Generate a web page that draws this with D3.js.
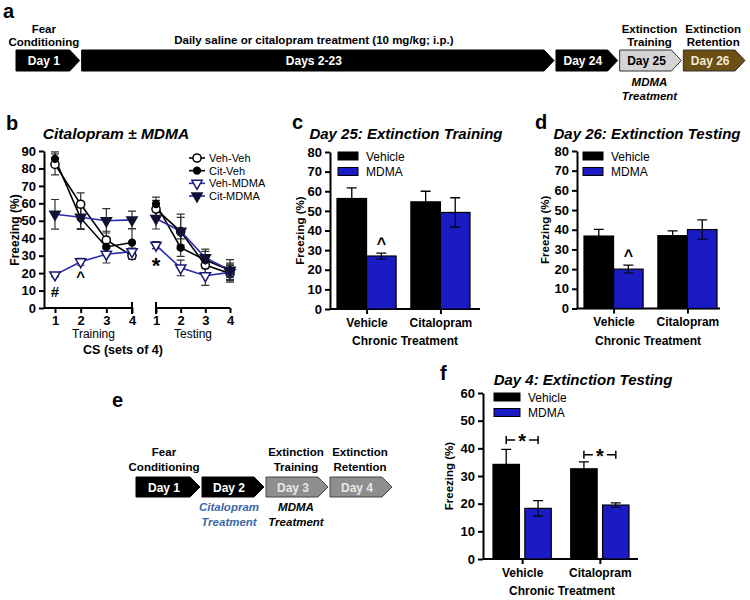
<!DOCTYPE html>
<html><head><meta charset="utf-8">
<script src="https://cdn.jsdelivr.net/npm/d3@7"></script>
<style>body{margin:0;background:#fff} text{font-family:"Liberation Sans",Arial,Helvetica,sans-serif}</style>
</head><body><svg id="chart" width="750" height="600"></svg>
<script>
// ---------------- DATA ----------------
// Panel a timeline
const timelineALabels = ["Day 1", "Days 2-23", "Day 24", "Day 25", "Day 26"];
const timelineAWeights = [1, 7.45, 1, 1, 1];
const timelineATop = [["Fear", "Conditioning"], ["Daily saline or citalopram treatment (10 mg/kg; i.p.)"], [], ["Extinction", "Training"], ["Extinction", "Retention"]];
const timelineABottom = [[], [], [], ["MDMA", "Treatment"], []];
// Panel e timeline
const timelineELabels = ["Day 1", "Day 2", "Day 3", "Day 4"];
const timelineEWeights = [1, 1, 1, 1];
const timelineETop = [["Fear", "Conditioning"], [], ["Extinction", "Training"], ["Extinction", "Retention"]];
const timelineEBottom = [[], ["Citalopram", "Treatment"], ["MDMA", "Treatment"], []];

// Panel b: CS sets, training / testing
const csSets = [1, 2, 3, 4];
const bSeriesNames = ["Veh-Veh", "Cit-Veh", "Veh-MDMA", "Cit-MDMA"];
const vehVehTraining = [82.3, 59.5, 39, 30];
const vehVehTesting = [56.7, 43.8, 24.6, 19.8];
const vehVehTrainingSem = [6, 6.5, 5, 2];
const vehVehTestingSem = [5, 10, 5, 5];
const citVehTraining = [85.5, 51.5, 35, 37.5];
const citVehTesting = [59.6, 34.6, 27.5, 21.7];
const citVehTrainingSem = [4, 6, 5, 8];
const citVehTestingSem = [4, 5, 5, 4];
const vehMdmaTraining = [19, 26.5, 30.8, 32.3];
const vehMdmaTesting = [36, 23, 18.5, 20.4];
const vehMdmaTrainingSem = [1, 2, 5, 2];
const vehMdmaTestingSem = [2, 4.5, 5.5, 4];
const citMdmaTraining = [53.7, 52, 50, 50.5];
const citMdmaTesting = [51.3, 44, 28.8, 21.7];
const citMdmaTrainingSem = [8.5, 7, 7, 5];
const citMdmaTestingSem = [6, 8, 5, 6];

// Bar panels
const chronicGroups = ["Vehicle", "Citalopram"];
const acuteGroups = ["Vehicle", "MDMA"];
const day25Vehicle = [56.3, 54.6], day25VehicleSem = [5.4, 5.4];
const day25Mdma = [27, 49.2], day25MdmaSem = [1.5, 7.5];
const day26Vehicle = [36.8, 37], day26VehicleSem = [3.4, 2.4];
const day26Mdma = [20, 40.1], day26MdmaSem = [2, 4.9];
const day4Vehicle = [34.2, 32.6], day4VehicleSem = [5.4, 2.5];
const day4Mdma = [18.3, 19.5], day4MdmaSem = [2.8, 0.8];
const day4BracketLevel = [43, 37.7];
const ticks80 = [0, 10, 20, 30, 40, 50, 60, 70, 80];
const ticks60 = [0, 10, 20, 30, 40, 50, 60];
const ticks90 = [0, 10, 20, 30, 40, 50, 60, 70, 80, 90];

// ---------------- DRAWING ----------------
const BLUE = "#1b1bc4", LBLUE = "#2a2ab0";
const svg = d3.select("#chart");
svg.append("rect").attr("width", 750).attr("height", 600).attr("fill", "#fff");

function txt(g, x, y, s, o = {}) {
  return g.append("text").attr("x", x).attr("y", y).text(s)
    .attr("font-size", o.size || 12).attr("font-weight", o.weight || "bold")
    .attr("font-style", o.style || "normal").attr("text-anchor", o.anchor || "middle")
    .attr("fill", o.fill || "#000");
}

function timeline(labels, weights, top, bottom, styles, x0, x1, y0, h, tip, font, boxFont, topY, botY, botFill) {
  const g = svg.append("g");
  const sc = d3.scaleLinear([0, d3.sum(weights)], [x0, x1]);
  let cum = 0;
  labels.forEach((lab, i) => {
    const a = sc(cum) + (i ? 2 : 0), b = sc(cum + weights[i]);
    cum += weights[i];
    const st = styles[i];
    g.append("path")
      .attr("d", `M${a},${y0}L${b - tip},${y0}L${b},${y0 + h / 2}L${b - tip},${y0 + h}L${a},${y0 + h}Z`)
      .attr("fill", st.fill).attr("stroke", st.stroke).attr("stroke-width", 1);
    const cx = (a + b - tip) / 2 + 1;
    txt(g, cx, y0 + h / 2 + 4.5, lab, { size: boxFont, fill: st.text });
    const t = top[i];
    t.forEach((s, j) => txt(g, cx + (t.length === 2 && i > 0 ? 3 : 0), topY[t.length === 1 ? 2 : j], s, { size: font }));
    bottom[i].forEach((s, j) => txt(g, cx + (i > 1 ? 3 : 0), botY[j], s, { size: font, style: "italic", fill: botFill[i] }));
  });
  return g;
}

// Panel a
txt(svg, 3, 18, "a", { size: 20, anchor: "start" });
timeline(timelineALabels, timelineAWeights, timelineATop, timelineABottom,
  [{ fill: "#000", stroke: "#000", text: "#fff" }, { fill: "#000", stroke: "#000", text: "#fff" },
   { fill: "#000", stroke: "#000", text: "#fff" }, { fill: "#d4d4d4", stroke: "#333", text: "#000" },
   { fill: "#6b4f14", stroke: "#333", text: "#f3ecd8" }],
  16, 745, 50, 21, 10, 11.5, 12, [33, 46, 44], [86, 100], ["#000", "#000", "#000", "#000", "#000"]);

// Panel e
txt(svg, 112, 407, "e", { size: 20, anchor: "start" });
timeline(timelineELabels, timelineEWeights, timelineETop, timelineEBottom,
  [{ fill: "#000", stroke: "#000", text: "#fff" }, { fill: "#000", stroke: "#000", text: "#fff" },
   { fill: "#8e8e8e", stroke: "#444", text: "#e8e8e8" }, { fill: "#8e8e8e", stroke: "#444", text: "#e8e8e8" }],
  136, 392, 477, 20, 10, 11.5, 12, [456, 471, 471], [511, 526], ["#000", "#3b67a8", "#000", "#000"]);

function styleAxis(a, size) {
  a.selectAll(".domain").attr("stroke-width", 2);
  a.selectAll(".tick line").attr("stroke-width", 2);
  a.selectAll(".tick text").attr("font-size", size || 13).attr("font-weight", "bold")
    .attr("font-family", '"Liberation Sans",Arial,sans-serif').attr("fill", "#000");
}

// Panel b
(function () {
  const g = svg.append("g");
  txt(g, 6, 130, "b", { size: 20, anchor: "start" });
  txt(g, 116, 139, "Citalopram \u00b1 MDMA", { size: 15.5, style: "italic" });
  const xTr = d3.scaleLinear([1, 4], [55, 132]);
  const xTe = d3.scaleLinear([1, 4], [156, 230]);
  const y = d3.scaleLinear([0, 90], [308, 151]);
  const ya = g.append("g").attr("transform", "translate(44,0)")
    .call(d3.axisLeft(y).tickValues(ticks90).tickSize(5).tickSizeOuter(0).tickPadding(3));
  styleAxis(ya, 13);
  [[xTr, 44, 132, 132], [xTe, 156, 230, 156]].forEach(([sc, l, r, cap]) => {
    const xa = g.append("g").attr("transform", "translate(0,308)")
      .call(d3.axisBottom(sc).tickValues(csSets).tickFormat(d3.format("d")).tickSize(5).tickPadding(3));
    xa.select(".domain").remove();
    styleAxis(xa, 13);
    g.append("line").attr("x1", l).attr("x2", r).attr("y1", 308).attr("y2", 308).attr("stroke", "#000").attr("stroke-width", 2);
    g.append("line").attr("x1", cap).attr("x2", cap).attr("y1", 302).attr("y2", 314).attr("stroke", "#000").attr("stroke-width", 2);
  });
  txt(g, (xTr(1) + xTr(4)) / 2, 338, "Training", { size: 12, weight: "normal" });
  txt(g, (xTe(1) + xTe(4)) / 2, 338, "Testing", { size: 12, weight: "normal" });
  txt(g, 123, 354, "CS (sets of 4)", { size: 12.5 });
  txt(g, 0, 0, "Freezing (%)", { size: 12 }).attr("transform", "translate(19,230) rotate(-90)");

  const series = [
    { name: bSeriesNames[0], tr: vehVehTraining, te: vehVehTesting, trs: vehVehTrainingSem, tes: vehVehTestingSem, line: "#000", sym: d3.symbolCircle, size: 52, fill: "#fff", stroke: "#000", rot: 0 },
    { name: bSeriesNames[1], tr: citVehTraining, te: citVehTesting, trs: citVehTrainingSem, tes: citVehTestingSem, line: "#000", sym: d3.symbolCircle, size: 36, fill: "#000", stroke: "#000", rot: 0 },
    { name: bSeriesNames[2], tr: vehMdmaTraining, te: vehMdmaTesting, trs: vehMdmaTrainingSem, tes: vehMdmaTestingSem, line: LBLUE, sym: d3.symbolTriangle, size: 46, fill: "#fff", stroke: "#1a1a70", rot: 180 },
    { name: bSeriesNames[3], tr: citMdmaTraining, te: citMdmaTesting, trs: citMdmaTrainingSem, tes: citMdmaTestingSem, line: LBLUE, sym: d3.symbolTriangle, size: 46, fill: "#111133", stroke: "#111133", rot: 180 }
  ];
  const line = (sc) => d3.line().x((d, i) => sc(csSets[i])).y(d => y(d));
  series.forEach(s => {
    [[xTr, s.tr, s.trs], [xTe, s.te, s.tes]].forEach(([sc, v, e]) => {
      v.forEach((d, i) => {
        const x = sc(csSets[i]);
        g.append("path").attr("d", `M${x},${y(d - e[i])}V${y(d + e[i])}M${x - 4},${y(d + e[i])}H${x + 4}M${x - 4},${y(d - e[i])}H${x + 4}`)
          .attr("stroke", "#333").attr("stroke-width", 1.2).attr("fill", "none");
      });
    });
  });
  series.forEach(s => {
    [[xTr, s.tr], [xTe, s.te]].forEach(([sc, v]) => {
      g.append("path").attr("d", line(sc)(v)).attr("fill", "none").attr("stroke", s.line).attr("stroke-width", 1.6);
    });
  });
  const sym = (s) => d3.symbol().type(s.sym).size(s.size)();
  series.forEach(s => {
    [[xTr, s.tr], [xTe, s.te]].forEach(([sc, v]) => {
      v.forEach((d, i) => {
        g.append("path").attr("d", sym(s)).attr("transform", `translate(${sc(csSets[i])},${y(d)}) rotate(${s.rot})`)
          .attr("fill", s.fill).attr("stroke", s.stroke).attr("stroke-width", 1.5);
      });
    });
  });
  // legend
  const ly = d3.scalePoint(bSeriesNames, [158, 196]);
  series.forEach(s => {
    const yy = ly(s.name);
    g.append("line").attr("x1", 189).attr("x2", 205).attr("y1", yy).attr("y2", yy).attr("stroke", s.line).attr("stroke-width", 1.6);
    g.append("path").attr("d", sym(s)).attr("transform", `translate(197,${yy}) rotate(${s.rot})`)
      .attr("fill", s.fill).attr("stroke", s.stroke).attr("stroke-width", 1.5);
    txt(g, 209, yy + 4, s.name, { size: 11, weight: "normal", anchor: "start" });
  });
  // annotations
  txt(g, xTr(1), y(vehMdmaTraining[0]) + 22, "#", { size: 15 });
  txt(g, xTr(2), y(vehMdmaTraining[1] - vehMdmaTrainingSem[1]) + 17, "^", { size: 15 });
  txt(g, xTe(1), y(vehMdmaTesting[0] - vehMdmaTestingSem[0]) + 24, "*", { size: 22 });
})();

// Bar panels
function barPanel(o) {
  const g = svg.append("g");
  txt(g, o.letterX, o.letterY, o.letter, { size: 20, anchor: "start" });
  txt(g, o.titleX, o.titleY, o.title, { size: 15, style: "italic" });
  const y = d3.scaleLinear([0, o.max], [o.y0, o.y1]);
  const x0 = d3.scaleBand(chronicGroups, o.barRange).paddingInner(o.pad);
  const x1 = d3.scaleBand(acuteGroups, [0, x0.bandwidth()]).paddingInner(o.subPad);
  const ya = g.append("g").attr("transform", `translate(${o.axisX},0)`)
    .call(d3.axisLeft(y).tickValues(o.ticks).tickSize(5).tickSizeOuter(0).tickPadding(3));
  styleAxis(ya, 13);
  const xs = d3.scaleOrdinal(chronicGroups, chronicGroups.map(c => x0(c) + x0.bandwidth() / 2));
  const xa = g.append("g").attr("transform", `translate(0,${o.y0})`)
    .call(d3.axisBottom(d3.scalePoint(chronicGroups, [xs(chronicGroups[0]), xs(chronicGroups[1])])).tickSize(5).tickSizeOuter(0).tickPadding(4));
  xa.select(".domain").remove();
  styleAxis(xa, 12);
  g.append("line").attr("x1", o.axisX).attr("x2", o.axisRight).attr("y1", o.y0).attr("y2", o.y0).attr("stroke", "#000").attr("stroke-width", 2);
  txt(g, o.ctX, o.y0 + 36, "Chronic Treatment", { size: 12 });
  txt(g, 0, 0, "Freezing (%)", { size: 11.5 }).attr("transform", `translate(${o.labelX},${(o.y0 + o.y1) / 2}) rotate(-90)`);
  const sets = [{ k: acuteGroups[0], v: o.veh, e: o.vehSem, fill: "#000" }, { k: acuteGroups[1], v: o.mdma, e: o.mdmaSem, fill: BLUE }];
  sets.forEach(s => {
    s.v.forEach((d, i) => {
      const x = x0(chronicGroups[i]) + x1(s.k), w = x1.bandwidth(), cx = x + w / 2;
      g.append("path").attr("d", `M${cx},${y(d - s.e[i])}V${y(d + s.e[i])}M${cx - 5},${y(d + s.e[i])}H${cx + 5}`)
        .attr("stroke", "#000").attr("stroke-width", 1.3).attr("fill", "none");
      g.append("rect").attr("x", x).attr("y", y(d)).attr("width", w).attr("height", o.y0 - y(d))
        .attr("fill", s.fill).attr("stroke", "#000").attr("stroke-width", 1.2);
      g.append("path").attr("d", `M${cx},${y(d)}V${y(d - s.e[i])}M${cx - 5},${y(d - s.e[i])}H${cx + 5}`)
        .attr("stroke", "#000").attr("stroke-width", 1.1).attr("fill", "none");
    });
  });
  sets.forEach((s, i) => {
    const yy = o.legY + i * 15.5;
    g.append("rect").attr("x", o.legX).attr("y", yy - 4).attr("width", o.legW).attr("height", 8)
      .attr("fill", s.fill).attr("stroke", "#000").attr("stroke-width", 1);
    txt(g, o.legX + o.legW + 8, yy + 4.5, s.k === acuteGroups[0] ? "Vehicle" : "MDMA", { size: 12, weight: "normal", anchor: "start" });
  });
  return { g, x0, x1, y };
}

const pc = barPanel({ letter: "c", letterX: 292, letterY: 129, title: "Day 25: Extinction Training", titleX: 406, titleY: 139,
  max: 80, y0: 309, y1: 152, axisX: 330, axisRight: 480, barRange: [337, 470], pad: 0.2, subPad: 0, ticks: ticks80,
  veh: day25Vehicle, vehSem: day25VehicleSem, mdma: day25Mdma, mdmaSem: day25MdmaSem,
  ctX: 405, labelX: 304, legX: 338, legY: 156, legW: 20 });
txt(pc.g, pc.x0(chronicGroups[0]) + pc.x1(acuteGroups[1]) + pc.x1.bandwidth() / 2, pc.y(day25Mdma[0] + day25MdmaSem[0]) - 4, "^", { size: 16 });

const pd = barPanel({ letter: "d", letterX: 535, letterY: 129, title: "Day 26: Extinction Testing", titleX: 647, titleY: 139,
  max: 80, y0: 308.5, y1: 151, axisX: 577, axisRight: 720, barRange: [584, 717], pad: 0.2, subPad: 0, ticks: ticks80,
  veh: day26Vehicle, vehSem: day26VehicleSem, mdma: day26Mdma, mdmaSem: day26MdmaSem,
  ctX: 648, labelX: 549, legX: 583, legY: 156, legW: 20 });
txt(pd.g, pd.x0(chronicGroups[0]) + pd.x1(acuteGroups[1]) + pd.x1.bandwidth() / 2, pd.y(day26Mdma[0] + day26MdmaSem[0]) - 4, "^", { size: 16 });

const pf = barPanel({ letter: "f", letterX: 440, letterY: 380, title: "Day 4: Extinction Testing", titleX: 583, titleY: 385,
  max: 60, y0: 559, y1: 393, axisX: 483, axisRight: 638, barRange: [493, 629], pad: 0.25, subPad: 0.17, ticks: ticks60,
  veh: day4Vehicle, vehSem: day4VehicleSem, mdma: day4Mdma, mdmaSem: day4MdmaSem,
  ctX: 562, labelX: 453, legX: 494, legY: 397, legW: 26 });
chronicGroups.forEach((c, i) => {
  const xa = pf.x0(c) + pf.x1(acuteGroups[0]) + pf.x1.bandwidth() / 2;
  const xb = pf.x0(c) + pf.x1(acuteGroups[1]) + pf.x1.bandwidth() / 2;
  const yy = pf.y(day4BracketLevel[i]);
  const xm = (xa + xb) / 2;
  pf.g.append("path").attr("d", `M${xa},${yy - 4}V${yy + 4}M${xa},${yy}H${xm - 7}M${xm + 7},${yy}H${xb}M${xb},${yy - 4}V${yy + 4}`)
    .attr("stroke", "#000").attr("stroke-width", 1.5).attr("fill", "none");
  txt(pf.g, xm, yy + 8, "*", { size: 20 });
});
</script></body></html>
